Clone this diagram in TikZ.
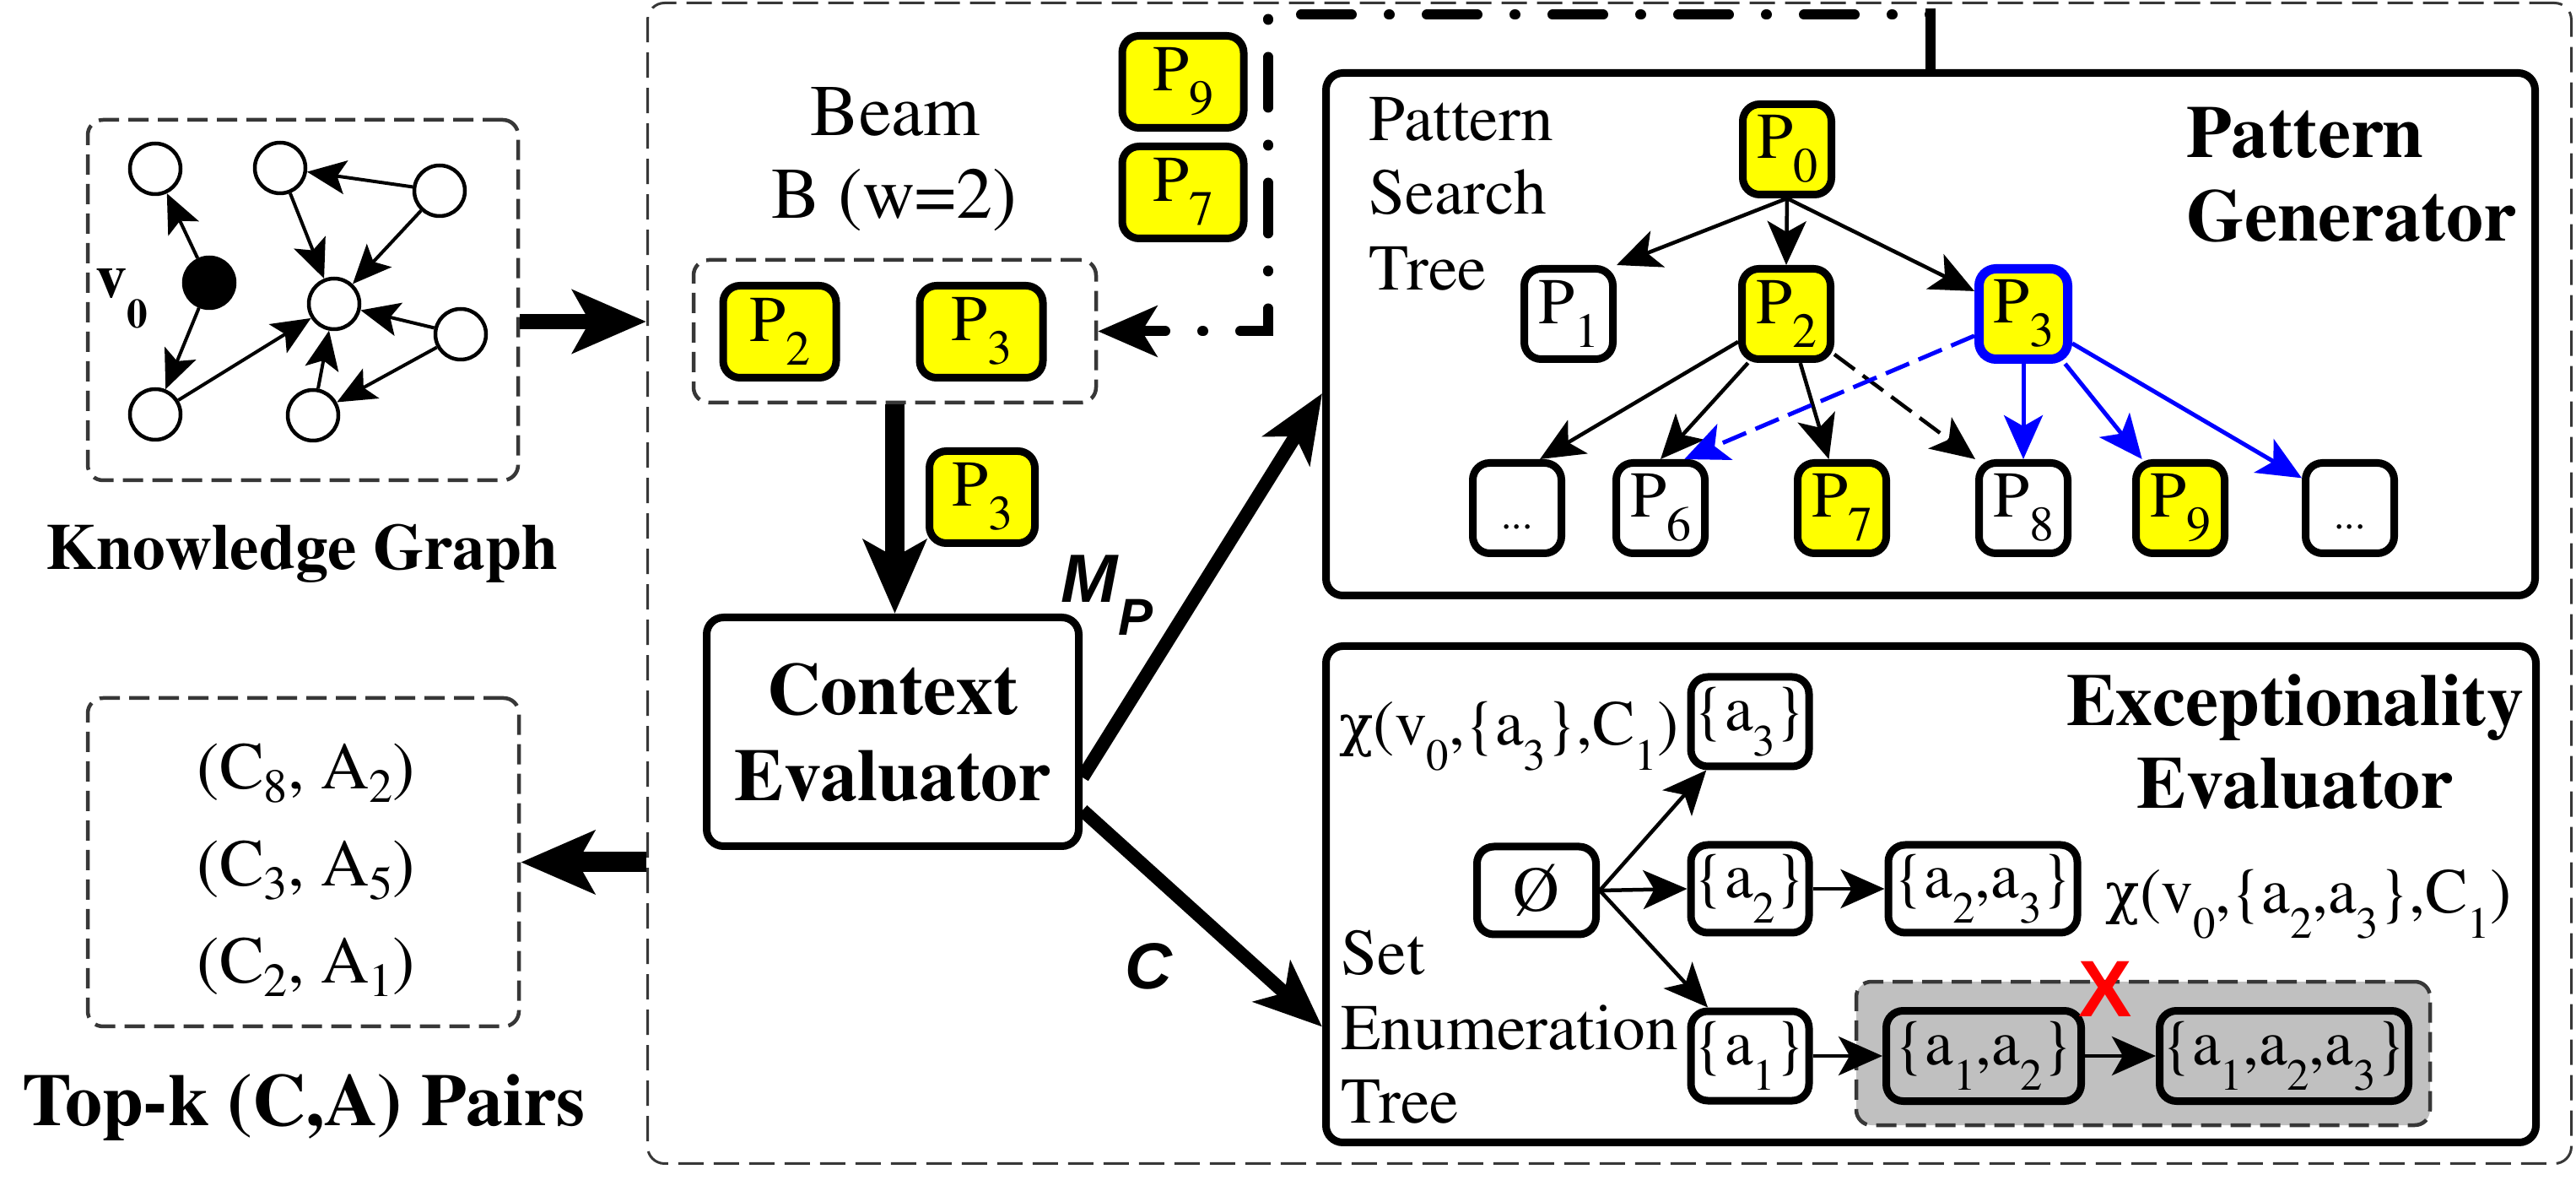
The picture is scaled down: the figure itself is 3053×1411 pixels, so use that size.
\documentclass[tikz,border=0pt]{standalone}
\usepackage{fontspec}
\newfontfamily\arialf{Liberation Sans}
\newfontfamily\grkf{DejaVu Serif}
\usepackage[T1]{fontenc}
\renewcommand{\rmdefault}{ptm}
\renewcommand{\bfdefault}{b}
\usetikzlibrary{arrows.meta,calc}
\definecolor{ylw}{RGB}{255,255,0}
\definecolor{blu}{RGB}{0,0,255}
\definecolor{gryfill}{RGB}{192,192,192}
\definecolor{dashgray}{RGB}{55,55,55}
\newcommand{\myfs}[1]{\fontsize{#1}{#1}\selectfont}
\newcommand{\mysub}[3]{\raisebox{-#1}{\myfs{#2}#3}}
\newcommand{\Psb}[1]{\mysub{8pt}{16.5}{#1}}
\newcommand{\Esb}[1]{\mysub{8.5pt}{15}{#1}}
\newcommand{\Tsb}[1]{\mysub{4.5pt}{16}{#1}}
\newcommand{\chig}{{\grkf\fontsize{19}{19}\selectfont χ}}
\tikzset{
  boxdash/.style={draw=dashgray, line width=0.45mm, dash pattern=on 2.4mm off 1.1mm, rounded corners=1.8mm, inner sep=0pt},
  outerdash/.style={draw=dashgray, line width=0.3mm, dash pattern=on 3mm off 1.2mm, rounded corners=2mm, inner sep=0pt},
  solidbox/.style={draw, line width=0.9mm, rounded corners=2mm, inner sep=0pt},
  pnode/.style={draw, line width=0.9mm, rounded corners=2mm, inner sep=0pt, minimum width=10.5mm, minimum height=10.7mm, font=\myfs{22}},
  ypnode/.style={pnode, fill=ylw},
  enode/.style={draw, line width=0.9mm, rounded corners=2mm, inner sep=0pt, minimum height=10.4mm, font=\myfs{21.5}},
  kgv/.style={circle, draw, line width=0.45mm, minimum size=6mm, inner sep=0pt},
  kgarrow/.style={line width=0.4mm, -{Stealth[length=4.6mm,width=4mm,inset=1mm]}},
  tarrow/.style={line width=0.45mm, -{Stealth[length=5.2mm,width=4.6mm,inset=1.3mm]}},
  barrow/.style={draw=blu, line width=0.5mm, -{Stealth[length=5.2mm,width=4.6mm,inset=1.3mm]}},
  bigarrow/.style={line width=2mm, -{Stealth[length=8.7mm,width=7.4mm,inset=2mm]}},
  midarrow/.style={line width=1.6mm, -{Stealth[length=8mm,width=6.5mm,inset=2mm]}},
  ddarrow/.style={line width=1.2mm, line cap=round, dash pattern=on 0.1mm off 4.4mm on 6mm off 4.4mm, dash phase=10.4mm, -{Stealth[length=7mm,width=6mm,inset=1.8mm]}},
  lbl/.style={anchor=base, inner sep=0pt, font=\myfs{22}},
}
\begin{document}
\begin{tikzpicture}[x=0.1mm,y=-0.1mm]
\useasboundingbox (0,0) rectangle (3053,1411);

% outer dashed frame
\node[outerdash, minimum width=228mm, minimum height=137.5mm] (outer) at (1907.5,691) {};

% ---------- Knowledge graph ----------
\node[boxdash, minimum width=51mm, minimum height=42.7mm] (kgbox) at (359,355.5) {};
\node[kgv] (n1) at (184,200) {};
\node[kgv] (n2) at (332,199) {};
\node[kgv] (n3) at (521,226) {};
\node[kgv, fill=black] (v0) at (248,335) {};
\node[kgv] (n5) at (396,360) {};
\node[kgv] (n6) at (546,396) {};
\node[kgv] (n7) at (184,491) {};
\node[kgv] (n8) at (371,492) {};
\node[anchor=base west, inner sep=0pt, font=\bfseries\myfs{21}] (v0l) at (113,353) {v\raisebox{-10pt}{\myfs{14}0}};
\draw[kgarrow] (v0) -- (n1);
\draw[kgarrow] (v0) -- (n7);
\draw[kgarrow] (n7) -- (n5);
\draw[kgarrow] (n2) -- (n5);
\draw[kgarrow] (n3) -- (n2);
\draw[kgarrow] (n3) -- (n5);
\draw[kgarrow] (n6) -- (n5);
\draw[kgarrow] (n6) -- (n8);
\draw[kgarrow] (n8) -- (n5);
\node[lbl, font=\bfseries\myfs{22}] (kgt) at (358,675) {Knowledge Graph};
\coordinate (kga) at (0,381);
\draw[bigarrow, line width=1.8mm] (kgbox.east |- kga) -- (outer.west |- kga);

% ---------- Top-k ----------
\node[boxdash, minimum width=51.1mm, minimum height=38.9mm] (topk) at (359.5,1021.5) {};
\node[lbl, font=\myfs{22.5}] (tk1) at (363,935) {(C\Tsb{8}, A\Tsb{2})};
\node[lbl, font=\myfs{22.5}] (tk2) at (363,1050) {(C\Tsb{3}, A\Tsb{5})};
\node[lbl, font=\myfs{22.5}] (tk3) at (363,1165) {(C\Tsb{2}, A\Tsb{1})};
\node[lbl, font=\bfseries\myfs{25}] (tkt) at (360,1333) {Top-k (C,A) Pairs};
\draw[bigarrow, line width=2.4mm] (outer.west |- topk.east) -- (topk.east);

% ---------- Pattern generator ----------
\node[solidbox, minimum width=143.3mm, minimum height=61.9mm] (pg) at (2288,396) {};
\node[lbl, anchor=base west] (pst1) at (1622,167) {Pattern};
\node[lbl, anchor=base west] (pst2) at (1622,254) {Search};
\node[lbl, anchor=base west] (pst3) at (1622,344) {Tree};
\node[lbl, anchor=base west, font=\bfseries\myfs{25}] (pgt1) at (2591,187) {Pattern};
\node[lbl, anchor=base west, font=\bfseries\myfs{25}] (pgt2) at (2591,286) {Generator};
\node[ypnode] (t0) at (2118,177) {P\Psb{0}};
\node[pnode] (t1) at (1859,372) {P\Psb{1}};
\node[ypnode] (t2) at (2117,372) {P\Psb{2}};
\node[ypnode, draw=blu, line width=1.1mm] (t3) at (2398,372) {P\Psb{3}};
\node[pnode] (tl) at (1798,602) {\vphantom{P}\myfs{14}...};
\node[pnode] (t6) at (1968,602) {P\Psb{6}};
\node[ypnode] (t7) at (2183,602) {P\Psb{7}};
\node[pnode] (t8) at (2398,602) {P\Psb{8}};
\node[ypnode] (t9) at (2584,602) {P\Psb{9}};
\node[pnode] (tr) at (2785,602) {\vphantom{P}\myfs{14}...};
\draw[tarrow] (t0.south) -- (t1.north east);
\draw[tarrow] (t0.south) -- (t2.north);
\draw[tarrow] (t0.south) -- (t3.155);
\draw[tarrow] (t2.210) -- (tl.65);
\draw[tarrow] (t2.232) -- (t6.north);
\draw[tarrow] (t2.-74) -- (t7.105);
\draw[tarrow, dash pattern=on 3mm off 1.2mm] (t2.-40) -- (t8.north west);
\draw[barrow, dash pattern=on 3mm off 1.2mm] (t3.204) -- (t6.64);
\draw[barrow] (t3.south) -- (t8.north);
\draw[barrow] (t3.-50) -- (t9.128);
\draw[barrow] (t3.-31) -- (tr.148);

% ---------- Beam ----------
\node[lbl, font=\myfs{24.5}] (bm1) at (1061,161) {Beam};
\node[lbl, font=\myfs{24.5}] (bm2) at (1060,259) {B (w=2)};
\node[boxdash, minimum width=47.7mm, minimum height=16.9mm] (beam) at (1060.5,392.5) {};
\node[ypnode, minimum width=13.4mm, minimum height=10.9mm] (bp2) at (924,393) {P\Psb{2}};
\node[ypnode, minimum width=14.6mm, minimum height=10.9mm] (bp3) at (1163,393) {P\Psb{3}};
\node[ypnode, minimum width=14.4mm, minimum height=10.9mm] (q9) at (1402,97) {P\Psb{9}};
\node[ypnode, minimum width=14.4mm, minimum height=10.9mm] (q7) at (1402,228) {P\Psb{7}};
\node[ypnode, minimum width=12.5mm, minimum height=10.9mm] (cp3) at (1164,589) {P\Psb{3}};

% dash-dot feedback
\draw[line width=1.2mm] (pg.north) -- ++(0,-72);
\coordinate (dd1) at ($(pg.north)+(0,-64.5)$);
\coordinate (ddx) at (1503,0);
\draw[ddarrow] (dd1) -| (ddx |- beam.east) -- (beam.east);

% ---------- Context evaluator ----------
\node[solidbox, minimum width=44.1mm, minimum height=27.1mm] (ce) at (1058,867) {};
\node[lbl, font=\bfseries\myfs{25}] (ce1) at (1058,847) {Context};
\node[lbl, font=\bfseries\myfs{25}] (ce2) at (1058,949) {Evaluator};
\draw[bigarrow, line width=2.3mm] (beam.south) -- (beam.south |- ce.north);

% ---------- Exceptionality evaluator ----------
\node[solidbox, minimum width=143.4mm, minimum height=58.8mm] (ee) at (2288.5,1059.5) {};
\node[lbl, font=\bfseries\myfs{25}] (eet1) at (2720,860) {Exceptionality};
\node[lbl, font=\bfseries\myfs{25}] (eet2) at (2720,958) {Evaluator};
\node[boxdash, fill=gryfill, minimum width=68mm, minimum height=17mm] (gb) at (2540,1248) {};
\node[enode, minimum width=14.1mm] (e0) at (1821,1055) {\O};
\node[enode, minimum width=14.0mm, minimum height=10.6mm] (ea3) at (2074,855) {\{a\Esb{3}\}};
\node[enode, minimum width=14.0mm] (ea2) at (2074,1053) {\{a\Esb{2}\}};
\node[enode, minimum width=22.4mm] (ea23) at (2350,1053) {\{a\Esb{2},a\Esb{3}\}};
\node[enode, minimum width=14.0mm, minimum height=10.6mm] (ea1) at (2074,1251) {\{a\Esb{1}\}};
\node[enode, fill=gryfill, minimum width=23.1mm, minimum height=10.7mm] (ea12) at (2351,1251) {\{a\Esb{1},a\Esb{2}\}};
\node[enode, fill=gryfill, minimum width=29.5mm, minimum height=10.7mm] (ea123) at (2707,1251) {\{a\Esb{1},a\Esb{2},a\Esb{3}\}};
\node[text=red, inner sep=0pt, font=\arialf\bfseries\myfs{27}] (xmark) at (2495,1172) {X};
\node[lbl, anchor=base east, font=\myfs{21.5}] (chi1) at (1990,883) {\chig(v\Esb{0},\{a\Esb{3}\},C\Esb{1})};
\node[lbl, anchor=base west, font=\myfs{21.5}] (chi2) at (2495,1082) {\chig(v\Esb{0},\{a\Esb{2},a\Esb{3}\},C\Esb{1})};
\node[lbl, anchor=base west] (set1) at (1589,1155) {Set};
\node[lbl, anchor=base west] (set2) at (1589,1243) {Enumeration};
\node[lbl, anchor=base west] (set3) at (1589,1330) {Tree};
\draw[tarrow] (e0.east) -- (ea3.228);
\draw[tarrow] (e0.east) -- (ea2.west);
\draw[tarrow] (e0.east) -- (ea1.131);
\draw[tarrow] (ea2) -- (ea23);
\draw[tarrow] (ea1) -- (ea12);
\draw[tarrow] (ea12) -- (ea123);

% ---------- Context evaluator outputs ----------
\coordinate (mps) at ($(ce.east)+(0,54)$);
\coordinate (mpt) at ($(pg.west)+(0,70)$);
\draw[midarrow] (mps) -- (mpt);
\coordinate (cs) at ($(ce.east)+(0,93)$);
\coordinate (ct) at ($(ee.west)+(0,157)$);
\draw[midarrow] (cs) -- (ct);
\node[anchor=base west, inner sep=0pt, font=\arialf\bfseries\itshape\myfs{23}] (mpl) at (1257,714) {M\raisebox{-11pt}{\myfs{17.5}P}};
\node[anchor=base west, inner sep=0pt, font=\arialf\bfseries\itshape\myfs{22}] (cl) at (1333,1172) {C};
\end{tikzpicture}
\end{document}
